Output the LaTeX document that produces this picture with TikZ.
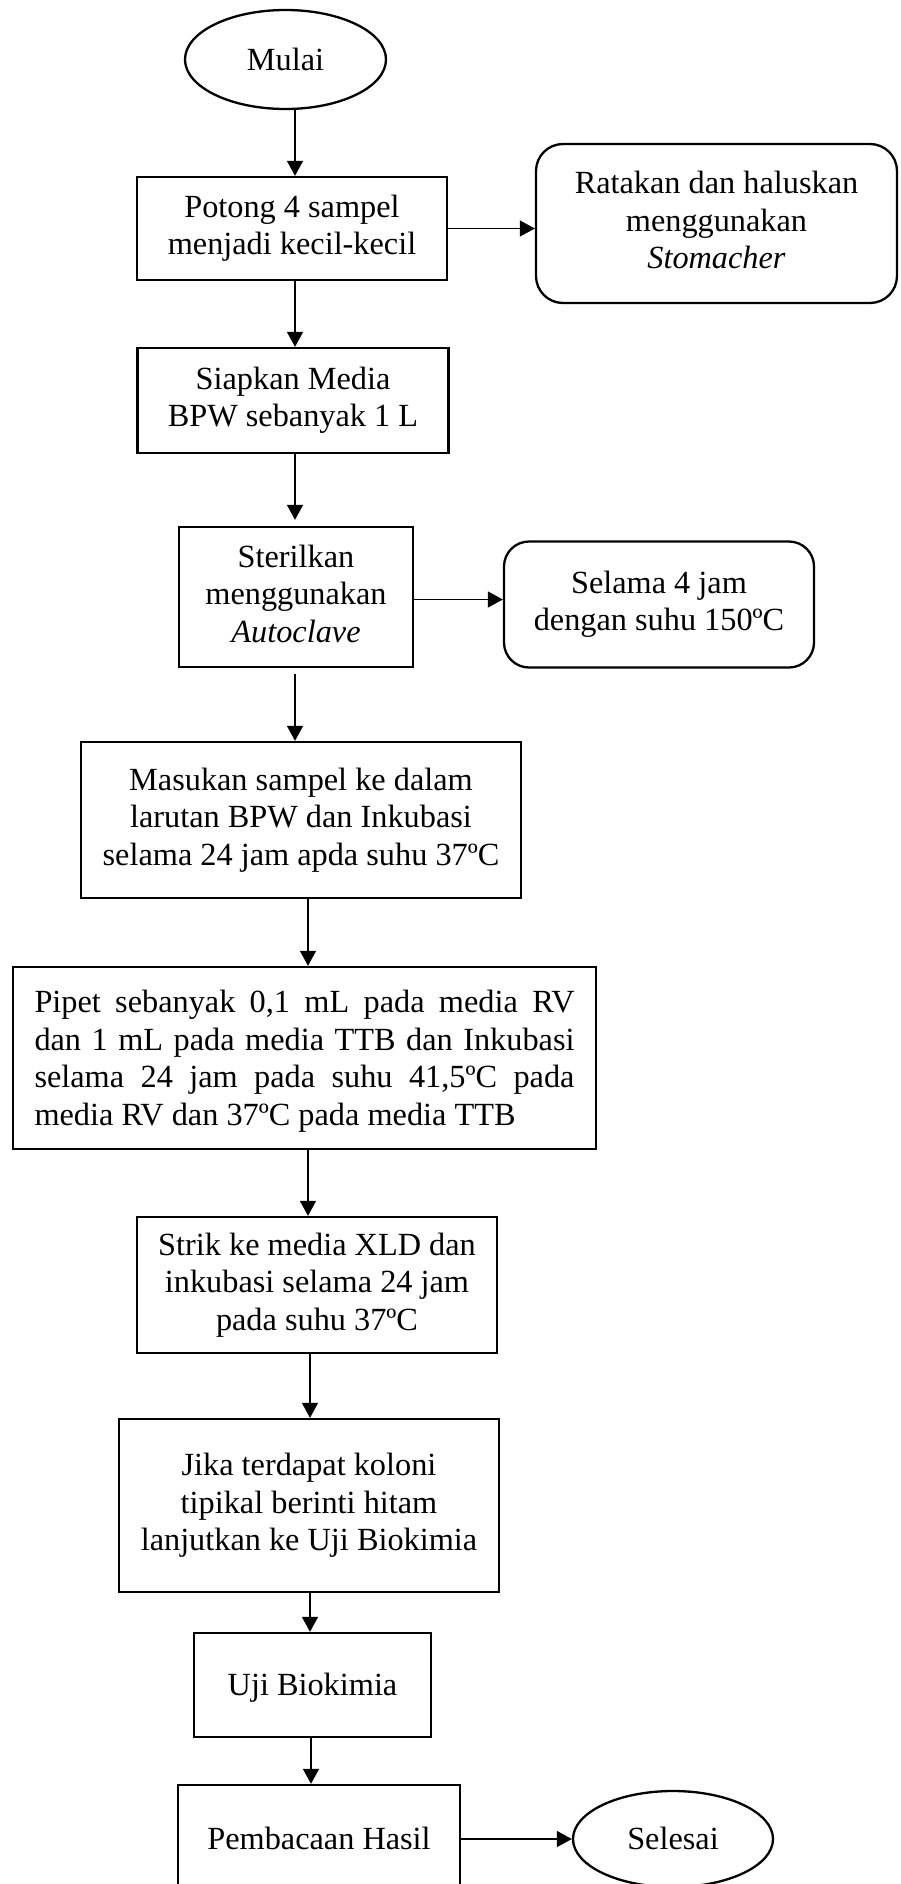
\documentclass[tikz,border=0pt]{standalone}
\usepackage{fontspec}
\setmainfont{Liberation Serif}
\usetikzlibrary{shapes.geometric,arrows.meta}
\tolerance=10000
\hbadness=10000
\newcommand{\topstrut}{\rule{0pt}{0.891em}}
\newcommand{\botstrut}{\rule[-0.216em]{0pt}{0pt}}
\tikzset{
  txt/.style={font=\fontsize{32.3}{37.5}\selectfont,
    execute at begin node=\topstrut, execute at end node=\botstrut},
  procbox/.style={txt, draw=black, line width=2.3pt, rectangle, inner sep=0pt, align=center},
  roundbox/.style={procbox, rounded corners=27pt},
  termnode/.style={txt, draw=black, line width=2.3pt, ellipse, inner sep=0pt},
  arr/.style={-{Triangle[length=15pt,width=16pt]}, line width=1.3pt, draw=black}
}
\begin{document}
\begin{tikzpicture}[x=1pt,y=-1pt]
\useasboundingbox (0,0) rectangle (900,1884);
\clip (0,0) rectangle (900,1884);

\node[termnode, minimum width=201pt, minimum height=99pt] (mulai) at (285.5,59.5) {Mulai};
\node[procbox, minimum width=310pt, minimum height=103pt] (potong) at (292,228.5) {Potong 4 sampel\\menjadi kecil-kecil};
\node[roundbox, minimum width=361pt, minimum height=159pt] (ratakan) at (716.5,223.5) {Ratakan dan haluskan\\menggunakan\\\textit{Stomacher}};
\node[procbox, minimum width=311pt, minimum height=105pt] (siapkan) at (293,400.5) {Siapkan Media\\BPW sebanyak 1 L};
\node[procbox, minimum width=234pt, minimum height=140pt] (steril) at (296,597) {Sterilkan\\menggunakan\\\textit{Autoclave}};
\node[roundbox, rounded corners=25pt, minimum width=310pt, minimum height=126pt] (selama) at (659,604.5) {Selama 4 jam\\dengan suhu 150ºC};
\node[procbox, minimum width=440pt, minimum height=156pt] (masukan) at (301,820) {Masukan sampel ke dalam\\larutan BPW dan Inkubasi\\selama 24 jam apda suhu 37ºC};
\node[procbox, align=justify, text width=540pt, minimum width=583pt, minimum height=182pt] (pipet) at (304.5,1058) {Pipet sebanyak 0,1 mL pada media RV\linebreak dan 1 mL pada media TTB dan Inkubasi\linebreak selama 24 jam pada suhu 41,5ºC pada\linebreak media RV dan 37ºC pada media TTB};
\node[procbox, minimum width=360pt, minimum height=136pt] (strik) at (317,1285) {Strik ke media XLD dan\\inkubasi selama 24 jam\\pada suhu 37ºC};
\node[procbox, minimum width=380pt, minimum height=173pt] (jika) at (309,1505.5) {Jika terdapat koloni\\tipikal berinti hitam\\lanjutkan ke Uji Biokimia};
\node[procbox, minimum width=237pt, minimum height=104pt] (uji) at (312.5,1685) {Uji Biokimia};
\node[procbox, minimum width=282pt, minimum height=108pt] (baca) at (319,1839) {Pembacaan Hasil};
\node[termnode, minimum width=200pt, minimum height=96pt] (selesai) at (673,1839) {Selesai};

\coordinate (xa) at (295,0);
\coordinate (xb) at (308,0);
\coordinate (xc) at (310,0);
\coordinate (xd) at (311,0);

\draw[arr] (mulai.south -| xa) -- (potong.north -| xa);
\draw[arr] (potong.south -| xa) -- (siapkan.north -| xa);
\draw[arr, shorten >=6pt] (siapkan.south -| xa) -- (steril.north -| xa);
\draw[arr, shorten <=6pt] (steril.south -| xa) -- (masukan.north -| xa);
\draw[arr] (masukan.south -| xb) -- (pipet.north -| xb);
\draw[arr] (pipet.south -| xb) -- (strik.north -| xb);
\draw[arr] (strik.south -| xc) -- (jika.north -| xc);
\draw[arr] (jika.south -| xc) -- (uji.north -| xc);
\draw[arr] (uji.south -| xd) -- (baca.north -| xd);

\draw[arr] (potong.east) -- (ratakan.west |- potong.east);
\draw[arr] (steril.east |- selama.west) ++(0,-5) coordinate (sa) -- (selama.west |- sa);
\draw[arr] (baca.east) -- (selesai.west);
\end{tikzpicture}
\end{document}
